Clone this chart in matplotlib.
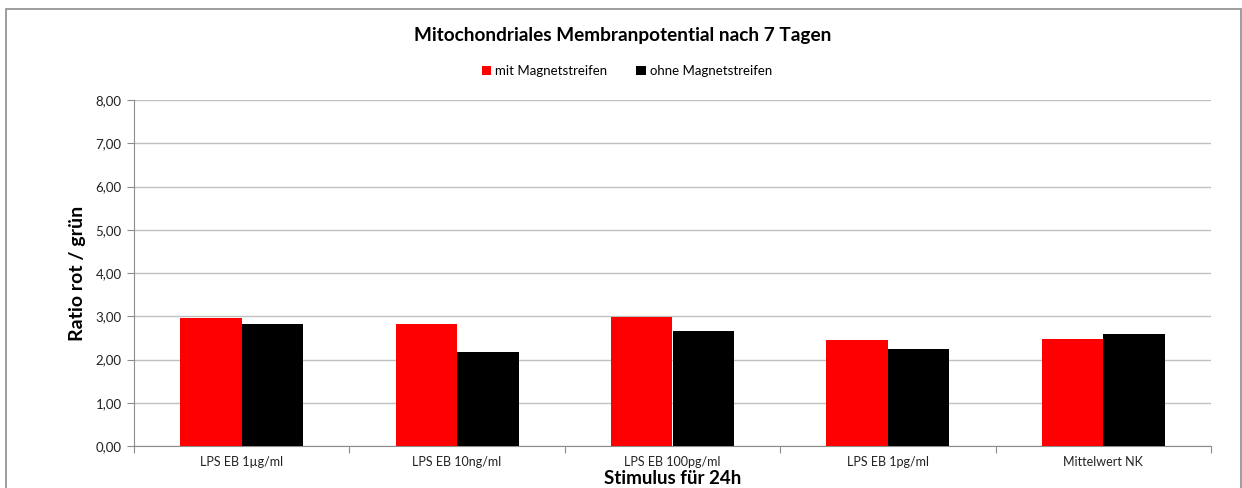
import numpy as np
import matplotlib
matplotlib.use('Agg')
import matplotlib.pyplot as plt
from matplotlib.patches import Rectangle
from matplotlib.ticker import FixedLocator, FuncFormatter

# values
categories = ['LPS EB 1µg/ml', 'LPS EB 10ng/ml', 'LPS EB 100pg/ml', 'LPS EB 1pg/ml', 'Mittelwert NK']
mit_magnet = [2.95, 2.81, 2.98, 2.45, 2.47]
ohne_magnet = [2.81, 2.17, 2.65, 2.25, 2.58]
series_names = ['mit Magnetstreifen', 'ohne Magnetstreifen']

plt.rcParams['font.family'] = ['Lato', 'DejaVu Sans']

fig = plt.figure(figsize=(12.42, 4.88), dpi=100)
# chart frame like excel
fig.patches.append(Rectangle((6/1242, -0.05), 1235/1242, 1.05 - 9/488,
                             transform=fig.transFigure, fill=False,
                             edgecolor='#8c8c8c', linewidth=1.2))

ax = fig.add_axes([134/1242, 1 - 446/488, (1211-134)/1242, (446-100)/488])

X = np.arange(len(categories))
wide = 1/3.5
ax.bar(X - wide/2, mit_magnet, width=wide, color='#ff0000', label=series_names[0], zorder=3)
ax.bar(X + wide/2, ohne_magnet, width=wide, color='#000000', label=series_names[1], zorder=3)

ax.set_xlim(-0.5, len(categories) - 0.5)
ax.set_ylim(0, 8)
ax.set_yticks(np.arange(0, 9, 1))
ax.yaxis.set_major_formatter(FuncFormatter(lambda v, p: ('%.2f' % v).replace('.', ',')))
ax.yaxis.grid(True, color='#c0c0c0', linewidth=1, zorder=0)
ax.set_axisbelow(True)

ax.xaxis.set_major_locator(FixedLocator(np.arange(-0.5, len(categories), 1)))
ax.xaxis.set_major_formatter(FuncFormatter(lambda v, p: ''))
ax.xaxis.set_minor_locator(FixedLocator(X))
ax.set_xticklabels(categories, minor=True)
ax.tick_params(axis='x', which='minor', length=0, pad=7, labelsize=9, labelcolor='#222222')
ax.tick_params(axis='x', which='major', length=5, color='#8c8c8c')
ax.tick_params(axis='y', length=5, color='#8c8c8c', labelsize=9.5, labelcolor='#222222', pad=4)

for s in ['top', 'right']:
    ax.spines[s].set_visible(False)
for s in ['left', 'bottom']:
    ax.spines[s].set_color('#8c8c8c')

ax.set_ylabel('Ratio rot / grün', fontsize=14, fontweight='bold', labelpad=7)
ax.set_xlabel('Stimulus für 24h', fontsize=13.5, fontweight='bold', labelpad=2)

fig.text(623/1242, 1 - 35/488, 'Mitochondriales Membranpotential nach 7 Tagen',
         ha='center', va='center', fontsize=13.7, fontweight='bold')
fig.legend(loc='center', bbox_to_anchor=(627/1242, 1 - 71/488), ncol=2, frameon=False,
           fontsize=9.5, handlelength=0.7, handleheight=0.7, handletextpad=0.3, columnspacing=2.2)

plt.savefig('out.png', dpi=100)
